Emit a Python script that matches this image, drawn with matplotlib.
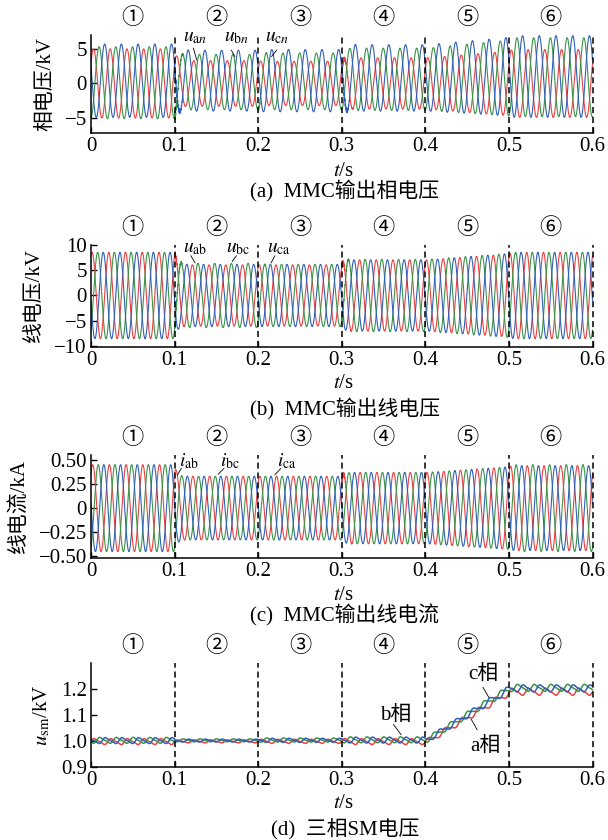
import numpy as np
import matplotlib
matplotlib.use("Agg")
import matplotlib.pyplot as plt

plt.rcParams["font.family"] = ["Liberation Serif", "Noto Sans CJK SC"]
plt.rcParams["mathtext.fontset"] = "stix"

# ---- data ----
seg_edges = [0.0, 0.1, 0.2, 0.3, 0.4, 0.5, 0.6]
seg_marks = ["①", "②", "③", "④", "⑤", "⑥"]
f0 = 50.0

# (a) phase voltages, kV (segment 5 ramps from seg 4 level to its own value)
ua_amp = [5.0, 3.3, 3.2, 3.7, 4.7, 4.9]
ub_amp = [5.2, 4.0, 4.1, 4.5, 5.5, 5.7]
uc_amp = [5.3, 4.4, 4.5, 4.8, 5.7, 5.9]
ua_off = [0.0, 0.0, 0.0, 0.0, 0.0, 0.0]
ub_off = [0.1, 0.2, 0.3, 0.6, 0.8, 0.9]
uc_off = [0.4, 0.4, 0.4, 0.8, 1.0, 1.0]

# (b) line voltages, kV
uab_amp = [8.6, 6.1, 6.1, 7.1, 8.3, 8.6]
ubc_amp = [8.6, 6.4, 6.2, 7.2, 8.4, 8.6]
uca_amp = [8.6, 6.2, 6.2, 7.1, 8.4, 8.6]

# (c) line currents, kA
iab_amp = [0.45, 0.33, 0.33, 0.37, 0.43, 0.44]
ibc_amp = [0.45, 0.33, 0.33, 0.37, 0.43, 0.45]
ica_amp = [0.45, 0.33, 0.33, 0.37, 0.43, 0.44]

# (d) SM voltages, kV
sma_mean = [0.997, 0.998, 0.998, 0.997, 1.190, 1.190]
smb_mean = [1.002, 1.002, 1.003, 1.004, 1.205, 1.205]
smc_mean = [1.001, 1.001, 1.002, 1.003, 1.203, 1.203]
sm_ripple = [0.010, 0.005, 0.007, 0.010, 0.012, 0.012]

# switching transients: (time, phase index, size)
bursts_a = [(0.1, 1, 0.6), (0.1, 2, 0.7), (0.2, 1, 0.3), (0.3, 2, 0.7), (0.3, 0, 0.5)]
bursts_b = [(0.1, 0, 0.5), (0.1, 1, 0.8), (0.2, 1, 0.3), (0.3, 0, 0.6), (0.3, 1, 0.6)]
bursts_c = [(0.3, 0, 0.03)]

red, green, blue = "#ec3f42", "#3a9347", "#2f5fb8"
colors = [red, green, blue]

t = np.linspace(0.0, 0.6, 12001)
w = 2 * np.pi * f0


def level_curve(levels, tau):
    target = np.empty_like(t)
    for k in range(6):
        m = (t >= seg_edges[k]) & (t <= seg_edges[k + 1])
        if k == 4:
            target[m] = np.interp(t[m], [seg_edges[4], seg_edges[5]],
                                  [levels[3], levels[4]])
        else:
            target[m] = levels[k]
    if tau <= 0:
        return target
    out = np.empty_like(target)
    out[0] = target[0]
    a = (t[1] - t[0]) / tau
    for i in range(1, len(t)):
        out[i] = out[i - 1] + (target[i] - out[i - 1]) * a
    return out


def burst(t0, size, tau=0.006, f=1400.0):
    dt = t - t0
    return np.where(dt >= 0, size * np.exp(-dt / tau) * np.sin(2 * np.pi * f * dt), 0.0)


def three_phase(amps, offs, t_peak, bursts):
    sigs = []
    for k in range(3):
        amp = level_curve(amps[k], 0.003)
        off = level_curve(offs[k], 0.003) if offs is not None else 0.0
        y = off + amp * np.cos(w * (t - t_peak) - k * 2 * np.pi / 3)
        for (t0, ph, size) in bursts:
            if ph == k:
                y = y + burst(t0, size)
        sigs.append(y)
    return sigs


sig_a = three_phase([ua_amp, ub_amp, uc_amp], [ua_off, ub_off, uc_off], 0.003, bursts_a)
sig_b = three_phase([uab_amp, ubc_amp, uca_amp], None, 0.0013, bursts_b)
sig_c = three_phase([iab_amp, ibc_amp, ica_amp], None, 0.002, bursts_c)

sig_d = []
rip = level_curve(sm_ripple, 0.0)
for k, means in enumerate([sma_mean, smb_mean, smc_mean]):
    mean = level_curve(means, 0.002)
    th = w * t - k * 2 * np.pi / 3
    sig_d.append(mean + rip * (np.sin(th) + 0.3 * np.sin(2 * th)))

# ---- figure ----
fig = plt.figure(figsize=(6.08, 8.4), dpi=100)
left, width = 91 / 608, 501.5 / 608
boxes = [(35, 133.3), (245, 346.7), (455, 558.3), (663.3, 766.7)]
axes = []
for top, bot in boxes:
    axes.append(fig.add_axes([left, 1 - bot / 840, width, (bot - top) / 840]))

ylims = [(-7.2, 7.0), (-10.2, 10.05), (-0.52, 0.55), (0.9, 1.3)]
yticks = [[-5, 0, 5], [-10, -5, 0, 5, 10], [-0.5, -0.25, 0, 0.25, 0.5],
          [0.9, 1.0, 1.1, 1.2]]
yticklabels = [["−5", "0", "5"], ["−10", "−5", "0", "5", "10"],
               ["−0.50", "−0.25", "0", "0.25", "0.50"],
               ["0.9", "1.0", "1.1", "1.2"]]
ylabels = ["相电压/kV", "线电压/kV", "线电流/kA", r"$u_{\mathrm{sm}}$/kV"]
ylabel_x = [46, 34, 20, 42]
captions = ["(a)  MMC输出相电压", "(b)  MMC输出线电压", "(c)  MMC输出线电流",
            "(d)  三相SM电压"]
caption_y = [191, 409, 615, 829]
xlabel_y = [171, 384, 596, 803]
signals = [sig_a, sig_b, sig_c, sig_d]

for i, ax in enumerate(axes):
    for k in range(3):
        ax.plot(t, signals[i][k], color=colors[k], lw=0.8 if i < 3 else 1.1)
    for xe in seg_edges[1:]:
        ax.axvline(xe, color="k", ls=(0, (4, 2.5)), lw=1.1, zorder=4, clip_on=False)
    ax.set_xlim(0, 0.6)
    ax.set_ylim(*ylims[i])
    ax.set_xticks([0, 0.1, 0.2, 0.3, 0.4, 0.5, 0.6])
    ax.set_xticklabels(["0", "0.1", "0.2", "0.3", "0.4", "0.5", "0.6"])
    ax.set_yticks(yticks[i])
    ax.set_yticklabels(yticklabels[i])
    ax.tick_params(direction="in", length=4, width=1, labelsize=15, pad=3)
    for s in ["top", "right"]:
        ax.spines[s].set_visible(False)
    for s in ["left", "bottom"]:
        ax.spines[s].set_linewidth(1.1)
    for k in range(6):
        ax.annotate(seg_marks[k], xy=((seg_edges[k] + seg_edges[k + 1]) / 2, 1.0),
                    xycoords=("data", "axes fraction"), xytext=(0, 18),
                    textcoords="offset pixels", ha="center", va="center",
                    fontsize=16, family=["Noto Sans CJK SC"])
    top, bot = boxes[i]
    fig.text(ylabel_x[i] / 608, 1 - (top + bot) / 2 / 840, ylabels[i],
             rotation=90, ha="center", va="center", fontsize=15)
    fig.text(343 / 608, 1 - xlabel_y[i] / 840, r"$t$/s", ha="center",
             va="center", fontsize=15)
    fig.text(345 / 608, 1 - caption_y[i] / 840, captions[i], ha="center",
             va="center", fontsize=15)


def tag(ax, label, xy, p1, p2, size=14):
    ax.text(xy[0], xy[1], label, ha="center", va="center", fontsize=size)
    ax.plot([p1[0], p2[0]], [p1[1], p2[1]], color="k", lw=0.6, zorder=5)


tag(axes[0], r"$u_{\mathrm{a}n}$", (0.124, 6.6), (0.1225, 5.1), (0.1265, 3.4))
tag(axes[0], r"$u_{\mathrm{b}n}$", (0.174, 6.6), (0.168, 4.8), (0.172, 3.9))
tag(axes[0], r"$u_{\mathrm{c}n}$", (0.223, 6.6), (0.222, 4.8), (0.216, 3.9))

tag(axes[1], r"$u_{\mathrm{ab}}$", (0.125, 9.4), (0.1195, 7.9), (0.1245, 6.5))
tag(axes[1], r"$u_{\mathrm{bc}}$", (0.1755, 9.4), (0.174, 7.9), (0.169, 6.8))
tag(axes[1], r"$u_{\mathrm{ca}}$", (0.2245, 9.4), (0.22, 7.9), (0.2155, 6.5))

tag(axes[2], r"$i_{\mathrm{ab}}$", (0.117, 0.49), (0.108, 0.41), (0.1035, 0.345))
tag(axes[2], r"$i_{\mathrm{bc}}$", (0.1665, 0.49), (0.159, 0.41), (0.152, 0.35))
tag(axes[2], r"$i_{\mathrm{ca}}$", (0.234, 0.49), (0.227, 0.41), (0.220, 0.345))

tag(axes[3], "b相", (0.365, 1.10), (0.362, 1.063), (0.371, 1.024), 15)
tag(axes[3], "c相", (0.469, 1.259), (0.469, 1.207), (0.476, 1.168), 15)
tag(axes[3], "a相", (0.472, 0.978), (0.462, 1.043), (0.455, 1.083), 15)

fig.savefig("out.png", dpi=100)
